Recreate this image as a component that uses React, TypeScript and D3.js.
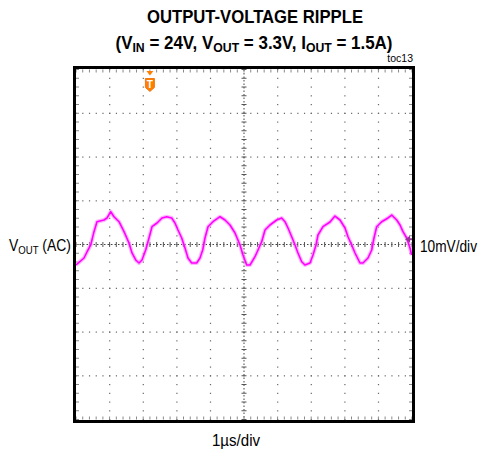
import React from 'react';
import * as d3 from 'd3';

// ---- data ----
const timeUs = [0, 0.238, 0.327, 0.438, 0.536, 0.625, 0.833, 0.923, 1.033, 1.131, 1.28, 1.429, 1.577, 1.667, 1.777, 1.875, 1.964, 2.074, 2.173, 2.262, 2.411, 2.56, 2.699, 2.848, 2.946, 3.036, 3.146, 3.244, 3.333, 3.443, 3.592, 3.69, 3.771, 3.839, 3.929, 4.077, 4.286, 4.435, 4.583, 4.732, 4.881, 4.97, 5.08, 5.179, 5.327, 5.417, 5.527, 5.625, 5.774, 5.973, 6.122, 6.22, 6.31, 6.42, 6.518, 6.607, 6.717, 6.815, 6.964, 7.054, 7.143, 7.202, 7.351, 7.56, 7.708, 7.857, 8.006, 8.095, 8.205, 8.304, 8.452, 8.542, 8.69, 8.801, 8.869, 8.949, 9.098, 9.286, 9.396, 9.545, 9.643, 9.732, 9.842, 9.94, 9.99];
const rippleMv = [-4.69, -3.09, -1.71, -0.11, 2.93, 5.21, 5.6, 6.06, 7.5, 6.35, 5.21, 2.93, 0.34, -1.94, -3.54, -4.23, -3.54, -1.26, 1.49, 4.07, 4.91, 6.06, 6.35, 6.06, 4.91, 3.31, 1.49, -0.8, -3.09, -4.23, -4.23, -3.09, -1.26, 1.49, 4.07, 5.21, 6.35, 5.6, 4.46, 2.63, -0.11, -2.4, -4.69, -4.69, -2.79, -1.26, 0.64, 3.31, 4.46, 5.6, 6.06, 5.21, 3.77, 1.78, -0.11, -1.94, -3.93, -4.69, -4.23, -2.4, -0.11, 2.17, 4.07, 5.14, 6.51, 5.6, 3.77, 1.78, -0.11, -1.94, -4.23, -4.23, -3.09, -1.26, 1.49, 4.07, 5.21, 6.06, 6.74, 5.6, 4.46, 2.93, 1.49, -0.8, -2.4];

const xDivisions = 10;
const yDivisions = 8;
const usPerDiv = 1;
const mvPerDiv = 10;
const triggerTimeUs = 2.2;
const channelOffsetMv = 1.2;

const titleLine1 = 'OUTPUT-VOLTAGE RIPPLE';
const figureId = 'toc13';
const xLabel = '1\u00b5s/div';
const yScaleLabel = '10mV/div';

// ---- layout ----
const W = 481;
const H = 451;
const left = 76;
const right = 412;
const top = 69.5;
const bottom = 419.5;
const FONT = "'Liberation Sans', Arial, sans-serif";

export default function App() {
  const x = d3.scaleLinear().domain([0, xDivisions * usPerDiv]).range([left, right]);
  const yHalf = (yDivisions / 2) * mvPerDiv;
  const y = d3.scaleLinear().domain([-yHalf, yHalf]).range([bottom, top]);

  const pts: [number, number][] = timeUs.map((t, i) => [t, rippleMv[i]]);
  const line = d3
    .line<[number, number]>()
    .x((d) => x(d[0]))
    .y((d) => y(d[1]));
  const path = line(pts) || '';

  const xMinor = d3.range(0, xDivisions * 5 + 1).map((i) => x((i * usPerDiv) / 5));
  const yMinor = d3.range(0, yDivisions * 5 + 1).map((i) => y(-yHalf + (i * mvPerDiv) / 5));
  const xMajor = d3.range(1, xDivisions).map((i) => x(i * usPerDiv));
  const yMajor = d3.range(1, yDivisions).map((i) => y(-yHalf + i * mvPerDiv));
  const cx = x((xDivisions / 2) * usPerDiv);
  const cy = y(0);

  const dots: JSX.Element[] = [];
  xMajor.forEach((gx, i) => {
    if (Math.abs(gx - cx) < 0.5) return;
    yMinor.forEach((gy, j) =>
      dots.push(<rect key={`v${i}-${j}`} x={gx - 0.5} y={gy - 0.5} width={1.2} height={1.2} fill="#666" />)
    );
  });
  yMajor.forEach((gy, i) => {
    if (Math.abs(gy - cy) < 0.5) return;
    xMinor.forEach((gx, j) =>
      dots.push(<rect key={`h${i}-${j}`} x={gx - 0.5} y={gy - 0.5} width={1.2} height={1.2} fill="#666" />)
    );
  });

  const ticks: JSX.Element[] = [];
  xMinor.forEach((gx, j) => {
    ticks.push(<line key={`tt${j}`} x1={gx} x2={gx} y1={top} y2={top + 3} stroke="#888" strokeWidth={1} />);
    ticks.push(<line key={`tb${j}`} x1={gx} x2={gx} y1={bottom - 3} y2={bottom} stroke="#888" strokeWidth={1} />);
    ticks.push(<line key={`tc${j}`} x1={gx} x2={gx} y1={cy - 2.5} y2={cy + 2.5} stroke="#555" strokeWidth={1} />);
  });
  yMinor.forEach((gy, j) => {
    ticks.push(<line key={`tl${j}`} x1={left} x2={left + 3} y1={gy} y2={gy} stroke="#888" strokeWidth={1} />);
    ticks.push(<line key={`tr${j}`} x1={right - 3} x2={right} y1={gy} y2={gy} stroke="#888" strokeWidth={1} />);
    ticks.push(<line key={`tcv${j}`} x1={cx - 2.5} x2={cx + 2.5} y1={gy} y2={gy} stroke="#555" strokeWidth={1} />);
  });

  const tx = x(triggerTimeUs);
  const my = y(channelOffsetMv);

  return (
    <svg width={W} height={H} style={{ position: 'absolute', left: 0, top: 0, background: '#fff' }}>
      <rect x={0} y={0} width={W} height={H} fill="#fff" />
      {/* title */}
      <text x={255} y={23} textAnchor="middle" fontFamily={FONT} fontWeight="bold" fontSize={18} textLength={216} lengthAdjust="spacingAndGlyphs">
        {titleLine1}
      </text>
      <text x={254} y={49} textAnchor="middle" fontFamily={FONT} fontWeight="bold" fontSize={18} textLength={277} lengthAdjust="spacingAndGlyphs">
        (V<tspan fontSize={13} dy={3}>IN</tspan>
        <tspan dy={-3}> = 24V, V</tspan>
        <tspan fontSize={13} dy={3}>OUT</tspan>
        <tspan dy={-3}> = 3.3V, I</tspan>
        <tspan fontSize={13} dy={3}>OUT</tspan>
        <tspan dy={-3}> = 1.5A)</tspan>
      </text>
      <text x={413} y={62} textAnchor="end" fontFamily={FONT} fontSize={10.5}>
        {figureId}
      </text>

      {/* grid */}
      {dots}
      <line x1={left} x2={right} y1={cy} y2={cy} stroke="#444" strokeWidth={1} strokeDasharray="1.5,2" />
      <line x1={cx} x2={cx} y1={top} y2={bottom} stroke="#444" strokeWidth={1} strokeDasharray="1.5,2" />
      {ticks}

      {/* trace */}
      <path d={path} fill="none" stroke="#ff88ff" strokeOpacity={0.6} strokeWidth={4} strokeLinejoin="round" />
      <path d={path} fill="none" stroke="#ff00ff" strokeWidth={1.6} strokeLinejoin="round" />

      {/* border */}
      <rect x={left - 1.5} y={top - 2} width={right - left + 3} height={bottom - top + 4} fill="none" stroke="#000" strokeWidth={3} />

      {/* trigger marker */}
      <path d={`M${tx - 3.5},${top + 1.5} L${tx + 3.5},${top + 1.5} L${tx},${top + 6} Z`} fill="#ff7f00" />
      <path d={`M${tx - 4.5},${top + 9} L${tx + 4.5},${top + 9} L${tx + 4.5},${top + 18} L${tx},${top + 22} L${tx - 4.5},${top + 18} Z`} fill="#ff7f00" stroke="#e86a00" strokeWidth={0.8} />
      <text x={tx} y={top + 18} textAnchor="middle" fontFamily={FONT} fontWeight="bold" fontSize={10} fill="#fff">T</text>

      {/* channel marker */}
      <path d={`M${right - 7},${my} L${right - 2},${my - 3.5} L${right - 2},${my + 3.5} Z`} fill="#993399" />
      <line x1={right - 4} x2={right} y1={my} y2={my} stroke="#993399" strokeWidth={2} />

      {/* labels */}
      <text x={71} y={251} textAnchor="end" fontFamily={FONT} fontSize={16} textLength={62} lengthAdjust="spacingAndGlyphs">
        V<tspan fontSize={11} dy={3}>OUT</tspan>
        <tspan dy={-3}> (AC)</tspan>
      </text>
      <text x={420} y={252} fontFamily={FONT} fontSize={16} textLength={57} lengthAdjust="spacingAndGlyphs">
        {yScaleLabel}
      </text>
      <text x={236} y={446} textAnchor="middle" fontFamily={FONT} fontSize={16} textLength={48} lengthAdjust="spacingAndGlyphs">
        {xLabel}
      </text>
    </svg>
  );
}
